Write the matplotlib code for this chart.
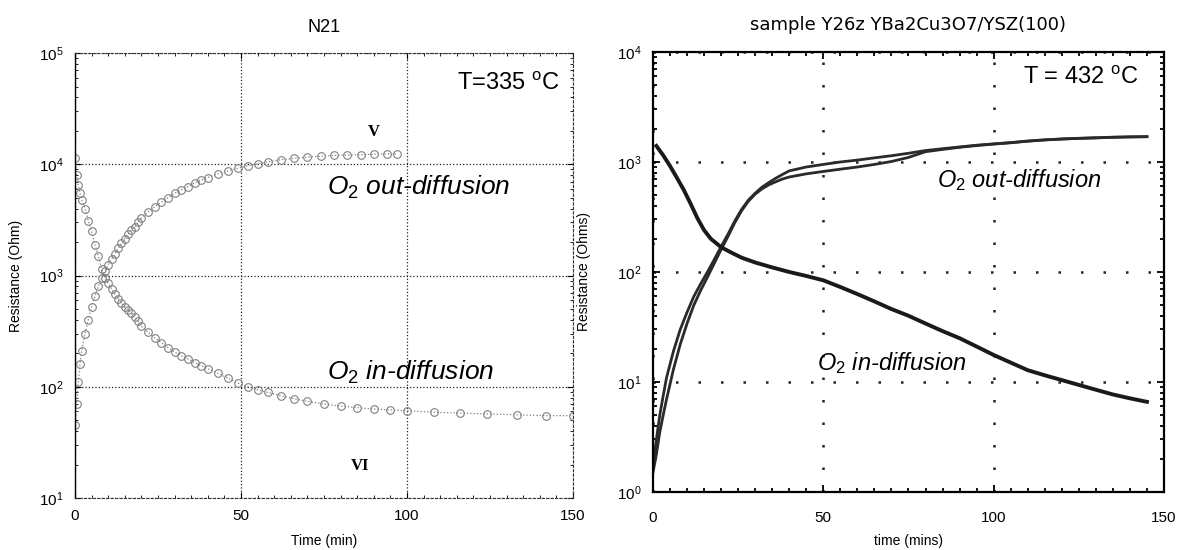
import matplotlib
matplotlib.use("Agg")
import matplotlib.pyplot as plt
from matplotlib.ticker import MultipleLocator, LogLocator, NullFormatter

plt.rcParams['font.family'] = ['Liberation Sans', 'DejaVu Sans']
plt.rcParams['mathtext.fontset'] = 'custom'
plt.rcParams['mathtext.rm'] = 'Liberation Sans'
plt.rcParams['mathtext.it'] = 'Liberation Sans:italic'

# left panel (N21), curve V: O2 out-diffusion
t_v = [0, 0.5, 1, 1.5, 2, 3, 4, 5, 6, 7, 8, 9, 10, 11, 12, 13, 14, 15, 16, 17, 18, 19,
       20, 22, 24, 26, 28, 30, 32, 34, 36, 38, 40, 43, 46, 49, 52, 55, 58, 62, 66, 70,
       74, 78, 82, 86, 90, 94, 97]
r_v = [45, 70, 110, 160, 210, 300, 400, 520, 650, 800, 950, 1100, 1250, 1400, 1550, 1750,
       1950, 2150, 2350, 2550, 2750, 3000, 3300, 3750, 4150, 4550, 5000, 5500, 5900, 6300,
       6800, 7200, 7600, 8200, 8700, 9200, 9700, 10100, 10500, 11000, 11300, 11600, 11800,
       12000, 12100, 12200, 12300, 12400, 12400]

# left panel, curve VI: O2 in-diffusion
t_vi = [0, 0.5, 1, 1.5, 2, 3, 4, 5, 6, 7, 8, 9, 10, 11, 12, 13, 14, 15, 16, 17, 18, 19,
        20, 22, 24, 26, 28, 30, 32, 34, 36, 38, 40, 43, 46, 49, 52, 55, 58, 62, 66, 70,
        75, 80, 85, 90, 95, 100, 108, 116, 124, 133, 142, 150]
r_vi = [11500, 8000, 6500, 5500, 4800, 4000, 3100, 2500, 1900, 1500, 1150, 950, 850, 760,
        680, 620, 570, 520, 490, 460, 420, 390, 350, 310, 275, 250, 225, 205, 190, 178,
        165, 155, 145, 132, 120, 108, 100, 94, 89, 83, 78, 74, 70, 67, 65, 63, 62, 61, 59,
        58, 57, 56, 55, 55]

# right panel (Y26z), O2 in-diffusion
t_in = [1, 3, 5, 7, 9, 11, 13, 15, 17, 20, 23, 26, 30, 35, 40, 45, 50, 55, 60, 65, 70, 75,
        80, 85, 90, 95, 100, 105, 110, 115, 120, 125, 130, 135, 140, 145]
r_in = [1400, 1150, 920, 720, 560, 420, 310, 240, 200, 168, 150, 135, 122, 110, 100, 92,
        84, 73, 63, 54, 46, 40, 34, 29, 25, 21, 17.6, 15, 12.8, 11.5, 10.4, 9.4, 8.5, 7.7,
        7.1, 6.6]

# right panel, O2 out-diffusion (two runs)
t_out = [0, 1, 2, 3, 4, 6, 8, 10, 12, 14, 16, 18, 20, 22, 24, 26, 28, 30, 32, 34, 36, 38,
         40, 45, 50, 55, 60, 65, 70, 75, 80, 85, 90, 95, 100, 105, 110, 115, 120, 125, 130,
         135, 140, 145]
r_out_a = [1.7, 3, 5, 7.5, 11, 19, 30, 43, 60, 78, 100, 130, 170, 220, 290, 370, 450, 520,
           590, 650, 710, 770, 830, 900, 950, 1000, 1040, 1090, 1140, 1200, 1270, 1320,
           1370, 1420, 1460, 1500, 1550, 1590, 1620, 1640, 1660, 1680, 1690, 1700]
r_out_b = [1.5, 2.2, 3.5, 5, 7, 13, 22, 34, 50, 68, 90, 120, 160, 210, 280, 360, 440, 510,
           570, 620, 660, 700, 730, 780, 820, 860, 900, 950, 1010, 1100, 1240, 1300, 1360,
           1410, 1455, 1495, 1545, 1585, 1615, 1640, 1655, 1675, 1690, 1695]

fig = plt.figure(figsize=(11.81, 5.5), dpi=100)

# ---------- left panel ----------
ax1 = fig.add_axes([0.0635, 0.0945, 0.4217, 0.8091])
ax1.plot(t_v, r_v, ls=':', lw=0.9, color='#808080', marker='o', ms=5.5,
         mfc='none', mec='#808080', mew=0.8)
ax1.plot(t_vi, r_vi, ls=':', lw=0.9, color='#808080', marker='o', ms=5.5,
         mfc='none', mec='#808080', mew=0.8)
ax1.set_yscale('log')
ax1.set_xlim(0, 150)
ax1.set_ylim(10, 1e5)
ax1.set_xticks([0, 50, 100, 150])
ax1.xaxis.set_minor_locator(MultipleLocator(5))
ax1.yaxis.set_major_locator(LogLocator(base=10, numticks=10))
ax1.yaxis.set_minor_locator(LogLocator(base=10, subs=range(2, 10), numticks=10))
ax1.yaxis.set_minor_formatter(NullFormatter())
ax1.grid(True, which='major', ls=':', lw=0.9, color='#222222')
for side in ['top', 'right', 'bottom']:
    ax1.spines[side].set_linestyle((0, (2, 2)))
    ax1.spines[side].set_color('#333333')
ax1.spines['left'].set_linewidth(1.0)
ax1.tick_params(which='both', direction='in', top=True, right=True, labelsize=11, pad=8)
ax1.tick_params(which='major', length=4)
ax1.tick_params(which='minor', length=2)
ax1.set_title('N21', fontsize=13, pad=15)
ax1.set_xlabel('Time (min)', fontsize=10, labelpad=8)
ax1.set_ylabel('Resistance (Ohm)', fontsize=10, labelpad=12)
ax1.text(146, 10**4.72, r'T=335 $^{\rm o}$C', fontsize=17, ha='right', va='center')
ax1.text(76, 10**3.79, r'$O_2$ out-diffusion', fontsize=19, style='italic', va='center')
ax1.text(76, 10**2.13, r'$O_2$ in-diffusion', fontsize=19, style='italic', va='center')
ax1.text(90, 10**4.29, 'V', fontsize=12, fontweight='bold', family='Liberation Serif',
         ha='center', va='center')
ax1.text(86, 10**1.29, 'VI', fontsize=12, fontweight='bold', family='Liberation Serif',
         ha='center', va='center')

# ---------- right panel ----------
ax2 = fig.add_axes([0.5529, 0.1055, 0.4327, 0.8])
ax2.plot(t_out, r_out_a, color='#2a2a2a', lw=2.0)
ax2.plot(t_out, r_out_b, color='#2a2a2a', lw=2.0)
ax2.plot(t_in, r_in, color='#1a1a1a', lw=2.8)
ax2.set_yscale('log')
ax2.set_xlim(0, 150)
ax2.set_ylim(1, 1e4)
ax2.set_xticks([0, 50, 100, 150])
ax2.xaxis.set_minor_locator(MultipleLocator(5))
ax2.yaxis.set_major_locator(LogLocator(base=10, numticks=10))
ax2.yaxis.set_minor_locator(LogLocator(base=10, subs=range(2, 10), numticks=10))
ax2.yaxis.set_minor_formatter(NullFormatter())
ax2.grid(True, which='major', ls=(0, (1, 8)), lw=1.8, color='#222222')
for side in ax2.spines.values():
    side.set_linewidth(1.6)
ax2.tick_params(which='both', direction='in', top=True, right=True, labelsize=11,
                width=1.3)
ax2.tick_params(axis='x', which='both', pad=14)
ax2.tick_params(axis='y', which='both', pad=8)
ax2.tick_params(which='major', length=5)
ax2.tick_params(which='minor', length=3)
ax2.set_title('sample Y26z YBa2Cu3O7/YSZ(100)', fontsize=13, family='DejaVu Sans', pad=16)
ax2.set_xlabel('time (mins)', fontsize=10, labelpad=6)
ax2.set_ylabel('Resistance (Ohms)', fontsize=10, labelpad=19)
ax2.text(142.5, 10**3.76, r'T = 432 $^{\rm o}$C', fontsize=17, ha='right', va='center')
ax2.text(83.5, 10**2.84, r'$O_2$ out-diffusion', fontsize=17, style='italic', va='center')
ax2.text(48, 10**1.17, r'$O_2$ in-diffusion', fontsize=17, style='italic', va='center')

fig.savefig('out.png', dpi=100)
